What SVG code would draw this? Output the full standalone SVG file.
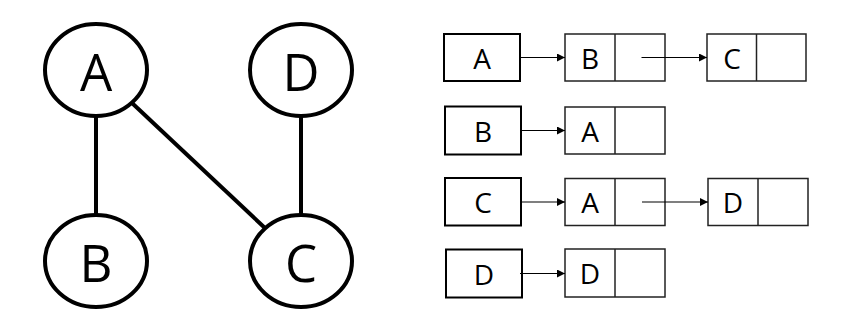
<svg xmlns="http://www.w3.org/2000/svg" width="851" height="330" viewBox="0 0 851 330">
<defs>
<style>
.v{fill:#fff;stroke:#000;stroke-width:4}
.e{stroke:#000;stroke-width:4;fill:none}
.big{font-family:"Open Sans","Noto Sans","DejaVu Sans",sans-serif;font-size:51px;fill:#000;text-anchor:middle;dominant-baseline:central}
.k{fill:#fff;stroke:#000;stroke-width:2}
.n{fill:#fff;stroke:#222;stroke-width:1.5}
.sm{font-family:"Open Sans","Noto Sans","DejaVu Sans",sans-serif;font-size:28px;fill:#000;text-anchor:middle;dominant-baseline:central}
.a{stroke:#000;stroke-width:1.2;fill:none;marker-end:url(#ah)}
</style>
<marker id="ah" viewBox="0 0 10 10" refX="10" refY="5" markerWidth="10" markerHeight="8" markerUnits="userSpaceOnUse" orient="auto"><path d="M0,0 L10,5 L0,10 z" fill="#000"/></marker>
</defs>
<rect width="851" height="330" fill="#fff"/>
<g id="edges">
<line class="e" x1="96" y1="116" x2="96" y2="215"/>
<line class="e" x1="301" y1="116" x2="301" y2="215"/>
<line class="e" x1="132" y1="103" x2="266" y2="229"/>
</g>
<g id="vA"><ellipse class="v" cx="96" cy="70" rx="51" ry="46"/><text class="big" x="96" y="71">A</text></g>
<g id="vD"><ellipse class="v" cx="301" cy="70" rx="51" ry="46"/><text class="big" x="301" y="71">D</text></g>
<g id="vB"><ellipse class="v" cx="96" cy="261" rx="51" ry="46"/><text class="big" x="96" y="262">B</text></g>
<g id="vC"><ellipse class="v" cx="301" cy="261" rx="51" ry="46"/><text class="big" x="301" y="262">C</text></g>

<g id="headA"><rect class="k" x="444" y="34" width="76" height="47"/><text class="sm" x="482" y="58">A</text></g>
<g id="listA1"><rect class="n" x="565" y="34" width="100" height="47"/><line class="n" x1="615" y1="34" x2="615" y2="81"/><text class="sm" x="590" y="58">B</text></g>
<g id="listA2"><rect class="n" x="707" y="34" width="99" height="47"/><line class="n" x1="756.5" y1="34" x2="756.5" y2="81"/><text class="sm" x="732" y="58">C</text></g>

<g id="headB"><rect class="k" x="445" y="106.5" width="76" height="48"/><text class="sm" x="483" y="131">B</text></g>
<g id="listB1"><rect class="n" x="565" y="107" width="100" height="47"/><line class="n" x1="615" y1="107" x2="615" y2="154"/><text class="sm" x="590" y="131">A</text></g>

<g id="headC"><rect class="k" x="445" y="178" width="76" height="47.5"/><text class="sm" x="483" y="202">C</text></g>
<g id="listC1"><rect class="n" x="565" y="178.5" width="100" height="47"/><line class="n" x1="615" y1="178.5" x2="615" y2="225.5"/><text class="sm" x="590" y="202">A</text></g>
<g id="listC2"><rect class="n" x="708" y="178.5" width="100" height="47"/><line class="n" x1="758" y1="178.5" x2="758" y2="225.5"/><text class="sm" x="733" y="202">D</text></g>

<g id="headD"><rect class="k" x="446" y="249.5" width="76" height="48"/><text class="sm" x="484" y="274">D</text></g>
<g id="listD1"><rect class="n" x="565" y="249" width="100" height="48"/><line class="n" x1="615" y1="249" x2="615" y2="297"/><text class="sm" x="590" y="273">D</text></g>

<g id="connectors">
<line class="a" x1="520" y1="57.5" x2="565" y2="57.5"/>
<line class="a" x1="641.5" y1="57.5" x2="707" y2="57.5"/>
<line class="a" x1="521" y1="130.5" x2="565" y2="130.5"/>
<line class="a" x1="521" y1="202" x2="565" y2="202"/>
<line class="a" x1="642" y1="202" x2="708" y2="202"/>
<line class="a" x1="520" y1="273.5" x2="565" y2="273.5"/>
</g>
</svg>
